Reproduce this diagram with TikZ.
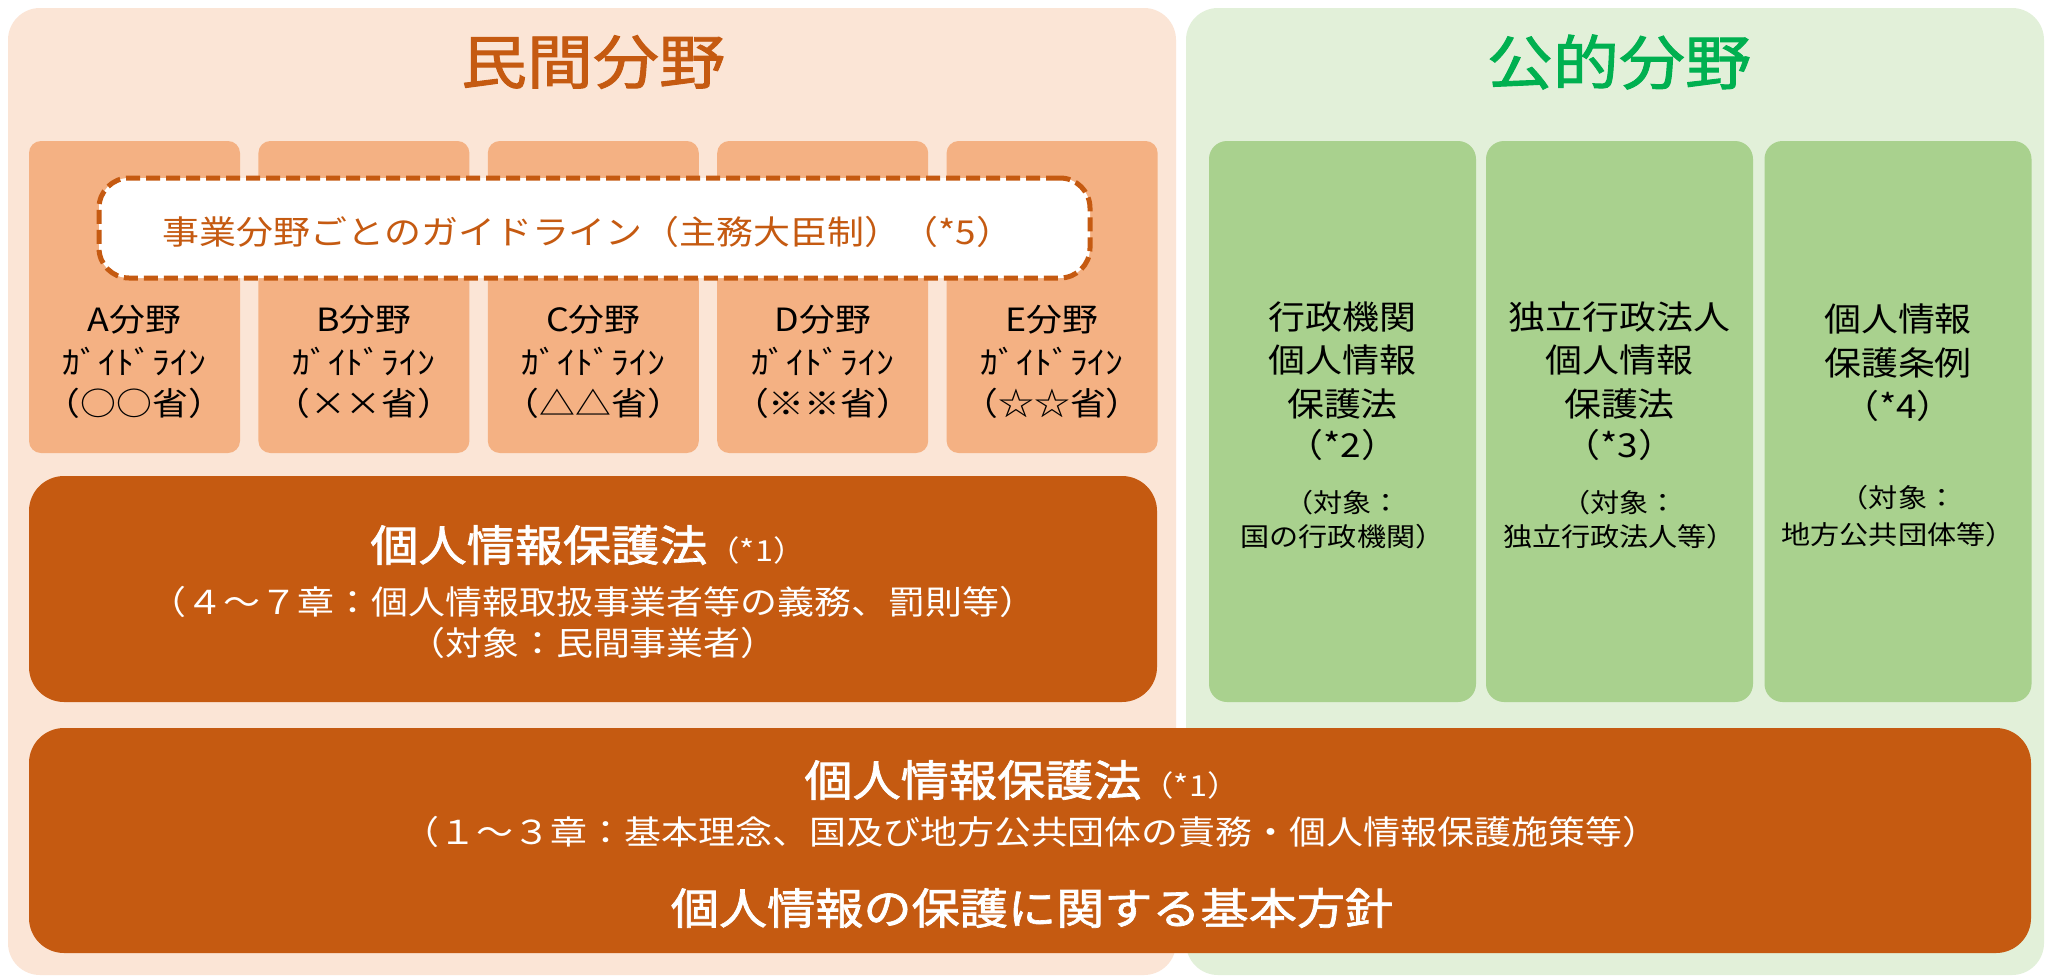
\documentclass[tikz,border=0pt]{standalone}
\usepackage{fontspec}
\setmainfont{Noto Sans CJK JP}[FakeStretch=1.12]
\newfontfamily\medfont{Noto Sans CJK JP}[FakeStretch=1.12,FakeBold=1.6]
\definecolor{leftbg}{HTML}{FBE5D6}
\definecolor{guidefill}{HTML}{F4B183}
\definecolor{darkor}{HTML}{C55A11}
\definecolor{rightbg}{HTML}{E2F0D9}
\definecolor{greenfill}{HTML}{A9D18E}
\definecolor{greentitle}{HTML}{00B050}
\newcommand{\setfs}[1]{\fontsize{#1}{#1}\selectfont}
\begin{document}
\begin{tikzpicture}[x=1pt,y=-1pt,
  panel/.style={rectangle,rounded corners=32pt,inner sep=0pt,minimum width=#1},
  guidebox/.style={rectangle,rounded corners=12pt,fill=guidefill,inner sep=0pt,minimum width=211pt,minimum height=312pt},
  greenbox/.style={rectangle,rounded corners=18pt,fill=greenfill,inner sep=0pt,minimum width=267pt,minimum height=561pt},
  darkbox/.style={rectangle,rounded corners=35pt,fill=darkor,inner sep=0pt},
  dashbox/.style={rectangle,rounded corners=30pt,fill=white,draw=darkor,line width=5pt,dash pattern=on 14pt off 6pt,inner sep=0pt,minimum width=991pt,minimum height=100pt},
  txt/.style={inner sep=0pt,anchor=center,font=\setfs{33}},
  gtxt/.style={inner sep=0pt,anchor=center,font=\setfs{32}},
  stxt/.style={inner sep=0pt,anchor=center,font=\setfs{26}},
  wtxt/.style={inner sep=0pt,anchor=center,text=white,font=\setfs{33}},
  wtitle/.style={inner sep=0pt,anchor=center,text=white},
]
\useasboundingbox (0,0) rectangle (2048,977);
\fill[white] (0,0) rectangle (2048,977);
% panels
\node[panel=1168pt,minimum height=967pt,fill=leftbg] (lp) at (592,491.5) {};
\node[panel=858pt,minimum height=967pt,fill=rightbg] (rp) at (1615,491.5) {};
% titles
\node[inner sep=0pt,text=darkor,font=\medfont\setfs{59}] (lt) at (593,62) {民間分野};
\node[inner sep=0pt,text=greentitle,font=\medfont\setfs{59}] (rt) at (1619,62) {公的分野};
% guideline boxes
\node[guidebox] (ga) at (134.5,297) {};
\node[guidebox] (gb) at (363.9,297) {};
\node[guidebox] (gc) at (593.3,297) {};
\node[guidebox] (gd) at (822.7,297) {};
\node[guidebox] (ge) at (1052.1,297) {};
% dashed box
\node[dashbox] (db) at (594.5,228) {};
\node[inner sep=0pt,text=darkor,font=\setfs{33}] (dbt) at (588,232) {事業分野ごとのガイドライン（主務大臣制）（*5）};
% guideline texts
\node[gtxt] (ga1) at (134.5,320) {A分野};
\node[gtxt] (ga2) at (134.5,362) {ｶﾞｲﾄﾞﾗｲﾝ};
\node[gtxt] (ga3) at (134.5,403) {（○○省）};
\node[gtxt] (gb1) at (363.9,320) {B分野};
\node[gtxt] (gb2) at (363.9,362) {ｶﾞｲﾄﾞﾗｲﾝ};
\node[gtxt] (gb3) at (363.9,403) {（××省）};
\node[gtxt] (gc1) at (593.3,320) {C分野};
\node[gtxt] (gc2) at (593.3,362) {ｶﾞｲﾄﾞﾗｲﾝ};
\node[gtxt] (gc3) at (593.3,403) {（△△省）};
\node[gtxt] (gd1) at (822.7,320) {D分野};
\node[gtxt] (gd2) at (822.7,362) {ｶﾞｲﾄﾞﾗｲﾝ};
\node[gtxt] (gd3) at (822.7,403) {（※※省）};
\node[gtxt] (ge1) at (1052.1,320) {E分野};
\node[gtxt] (ge2) at (1052.1,362) {ｶﾞｲﾄﾞﾗｲﾝ};
\node[gtxt] (ge3) at (1052.1,403) {（☆☆省）};
% middle dark box
\node[darkbox,minimum width=1128pt,minimum height=226pt] (mb) at (593,589) {};
\node[wtitle] (mb1) at (588,545) {{\medfont\setfs{43}個人情報保護法}{\setfs{29}（*1）}};
\node[wtxt] (mb2) at (593,602) {（４～７章：個人情報取扱事業者等の義務、罰則等）};
\node[wtxt] (mb3) at (593,643) {（対象：民間事業者）};
% green boxes
\node[greenbox] (k1) at (1342.5,421.5) {};
\node[greenbox] (k2) at (1619.5,421.5) {};
\node[greenbox] (k3) at (1898,421.5) {};
\node[txt] (k11) at (1342.5,317) {行政機関};
\node[txt] (k12) at (1342.5,360) {個人情報};
\node[txt] (k13) at (1342.5,404) {保護法};
\node[txt] (k14) at (1342.5,445) {（*2）};
\node[stxt] (k15) at (1342.5,503) {（対象：};
\node[stxt] (k16) at (1342.5,537) {国の行政機関）};
\node[txt] (k21) at (1619.5,317) {独立行政法人};
\node[txt] (k22) at (1619.5,360) {個人情報};
\node[txt] (k23) at (1619.5,404) {保護法};
\node[txt] (k24) at (1619.5,445) {（*3）};
\node[stxt] (k25) at (1619.5,503) {（対象：};
\node[stxt] (k26) at (1619.5,537) {独立行政法人等）};
\node[txt] (k31) at (1898,319) {個人情報};
\node[txt] (k32) at (1898,363) {保護条例};
\node[txt] (k33) at (1898,406) {（*4）};
\node[stxt] (k35) at (1898,498) {（対象：};
\node[stxt] (k36) at (1898,535) {地方公共団体等）};
% bottom dark box
\node[darkbox,minimum width=2002pt,minimum height=225pt] (bb) at (1030,840.5) {};
\node[wtitle] (bb1) at (1022,780) {{\medfont\setfs{43}個人情報保護法}{\setfs{29}（*1）}};
\node[wtxt] (bb2) at (1031,832) {（１～３章：基本理念、国及び地方公共団体の責務・個人情報保護施策等）};
\node[wtitle,font=\medfont\setfs{43}] (bb3) at (1032,908) {個人情報の保護に関する基本方針};
\end{tikzpicture}
\end{document}
